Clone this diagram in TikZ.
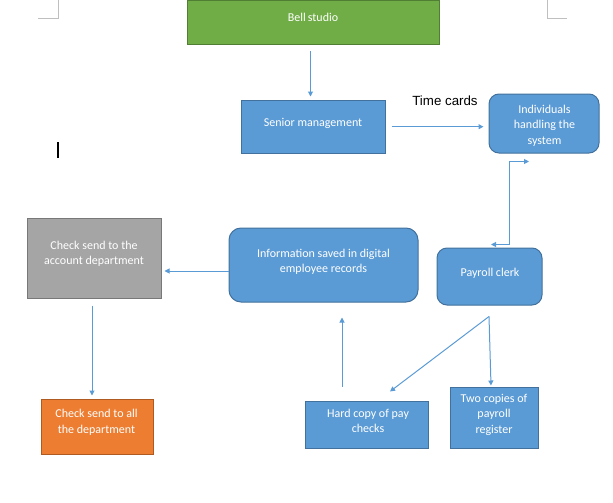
\documentclass[tikz,border=0pt]{standalone}
\usepackage{fontspec}
\setmainfont{Carlito}
\newfontfamily\arialfont{Liberation Sans}
\usetikzlibrary{arrows.meta,calc}
\definecolor{blueF}{HTML}{5B9BD5}
\definecolor{blueD}{HTML}{41719C}
\definecolor{greenF}{HTML}{70AD47}
\definecolor{greenD}{HTML}{507E32}
\definecolor{grayF}{HTML}{A5A5A5}
\definecolor{grayD}{HTML}{787878}
\definecolor{orangeF}{HTML}{ED7D31}
\definecolor{orangeD}{HTML}{AE5A21}
\definecolor{markC}{HTML}{BFBFBF}
\begin{document}
\begin{tikzpicture}[x=1pt,y=-1pt,
  shp/.style={line width=1pt, inner sep=0pt},
  bluebox/.style={shp, draw=blueD, fill=blueF},
  roundbox/.style={bluebox, rounded corners=10pt},
  greenbox/.style={shp, draw=greenD, fill=greenF},
  graybox/.style={shp, draw=grayD, fill=grayF},
  orangebox/.style={shp, draw=orangeD, fill=orangeF},
  txt/.style={text=white, font=\fontsize{12}{15.5}\selectfont, align=center, anchor=base, inner sep=0pt},
  arr/.style={draw=blueF, line width=1pt, -{Triangle[length=5pt,width=5pt]}},
  cornermark/.style={draw=markC, line width=0.8pt}
]
\useasboundingbox (0,0) rectangle (613,503);
% page corner marks
\draw[cornermark] (38,18) -- (58,18) -- (58,0);
\draw[cornermark] (547,0) -- (547,18) -- (567,18);
% text cursor
\draw[black, line width=1.8pt] (58.3,142) -- (58.3,158);

% boxes
\node[greenbox, minimum width=252pt, minimum height=44pt] (bell) at (313,23) {};
\node[bluebox, minimum width=144pt, minimum height=53pt] (sm) at (313,126.5) {};
\node[roundbox, minimum width=110pt, minimum height=59pt] (ind) at (544,123.5) {};
\node[roundbox, minimum width=105pt, minimum height=57pt] (pc) at (489.5,276.5) {};
\node[roundbox, rounded corners=12pt, minimum width=189pt, minimum height=74pt] (info) at (323.5,265) {};
\node[graybox, minimum width=134pt, minimum height=80pt] (acc) at (94,258) {};
\node[orangebox, minimum width=112pt, minimum height=55pt] (all) at (97,426.5) {};
\node[bluebox, minimum width=123pt, minimum height=47pt] (hard) at (367.3,424.5) {};
\node[bluebox, minimum width=88pt, minimum height=61pt] (two) at (494,417.5) {};

% texts (anchor base = baseline of the last line)
\node[txt] (bell-t) at (313,21.5) {Bell\,studio};
\node[txt] (sm-t) at (313,126) {Senior management};
\node[txt] (ind-t) at (544.5,144) {Individuals\\handling the\\system};
\node[txt] (pc-t) at (490,276) {Payroll clerk};
\node[txt] (info-t) at (323.5,272.5) {Information saved in digital\\employee records};
\node[txt] (acc-t) at (94,264.5) {Check send to the\\account department};
\node[txt] (all-t) at (96.5,433) {Check send to all\\the department};
\node[txt] (hard-t) at (368,432.5) {Hard copy of pay\\checks};
\node[txt] (two-t) at (494,433) {Two copies of\\payroll\\register};
\node[anchor=base, inner sep=0pt, font=\arialfont\fontsize{13.3}{15}\selectfont] (tc) at (445,106) {Time cards};

% connectors
\draw[arr, shorten <=6pt, shorten >=3pt] (bell.south -| 310.5,0) -- (sm.north -| 310.5,0);
\draw[arr, shorten <=6pt, shorten >=5pt] (sm.east |- 0,126.7) -- (ind.west |- 0,126.7);
\coordinate (indA) at ($(ind.south)+(-15,8)$);
\coordinate (indB) at ($(ind.south)+(-35,8)$);
\coordinate (pcA) at ($(pc.north)+(19.5,-3)$);
\coordinate (pcB) at ($(pc.north)+(1.5,-3)$);
\draw[arr, {Triangle[length=5pt,width=5pt]}-{Triangle[length=5pt,width=5pt]}] (indA) -- (indB) -- (pcA) -- (pcB);
\draw[arr, shorten >=3pt] (info.west |- 0,271) -- (acc.east |- 0,271);
\draw[arr, shorten <=7pt, shorten >=3pt] (acc.south -| 92,0) -- (all.north -| 92,0);
\draw[arr, shorten <=14pt, shorten >=15pt] (hard.north -| 342,0) -- (info.south -| 342,0);
\coordinate (pcS) at ($(pc.south)+(-0.5,11)$);
\coordinate (hardIn) at ($(hard.north)+(22.7,-9)$);
\coordinate (twoIn) at ($(two.north)+(-3,-1)$);
\draw[arr] (pcS) -- (hardIn);
\draw[arr] (pcS) -- (twoIn);
\end{tikzpicture}
\end{document}
